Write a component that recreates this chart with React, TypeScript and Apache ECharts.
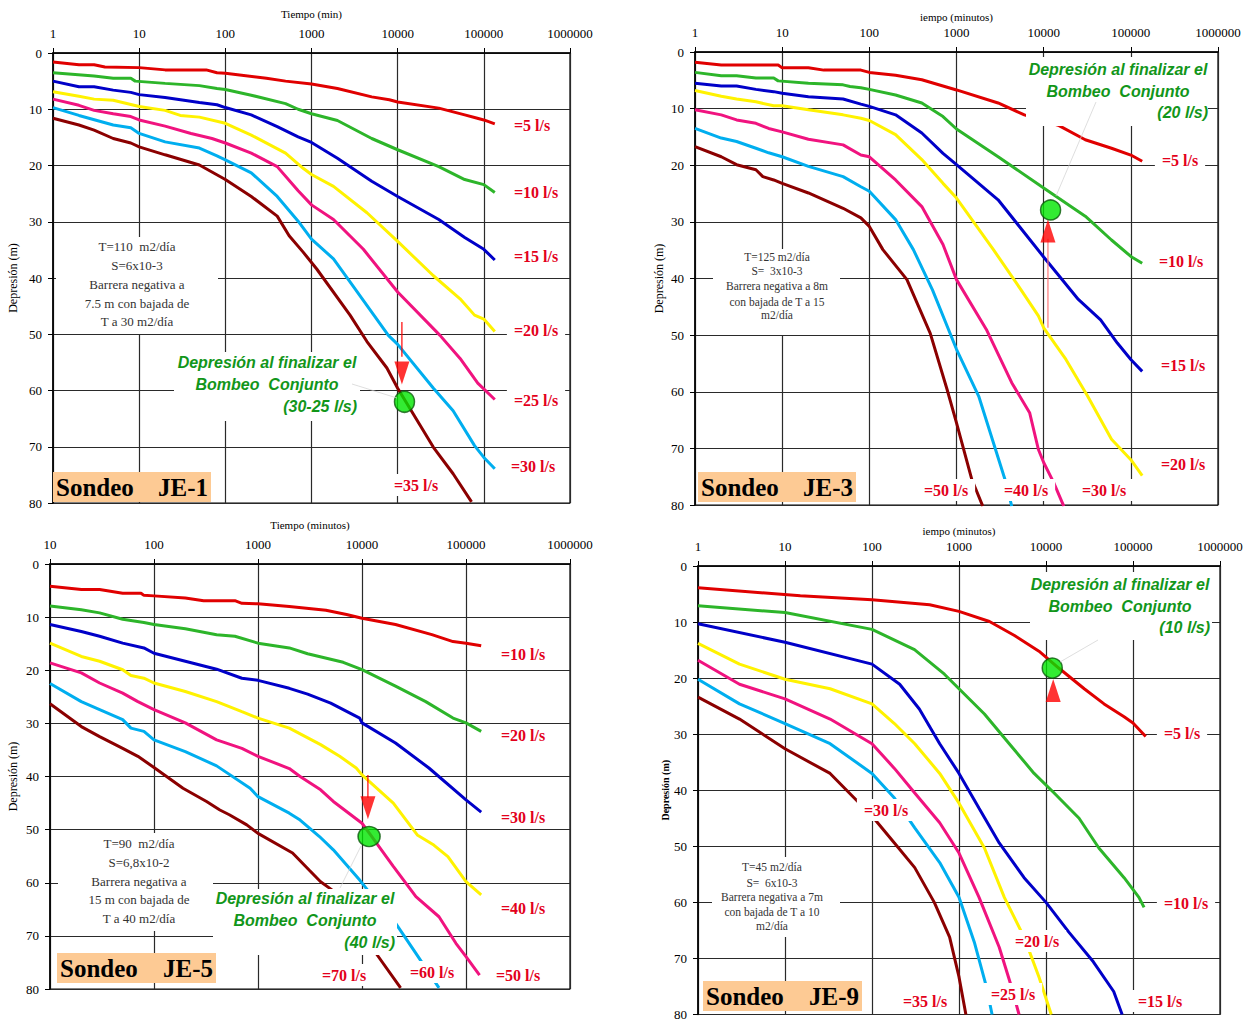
import React, { useEffect, useRef } from "react";
import * as echarts from "echarts";

// Drawdown curves: [time (min), drawdown (m)]
// ---- Sondeo JE-1 ----
const je1Q5 = [[1,1.6],[2,2.1],[3,2.1],[4,2.5],[10,2.6],[20,3.0],[60,3.0],[80,3.5],[100,3.6],[300,4.5],[500,5.0],[1000,5.5],[2000,6.3],[5000,7.8],[8000,8.3],[10000,8.7],[30000,9.8],[60000,11.0],[80000,11.5],[100000,11.9],[134000,12.6]];
const je1Q10 = [[1,3.5],[3,4.1],[5,4.5],[8,4.5],[9,5.0],[20,5.4],[50,5.8],[80,6.3],[100,6.5],[200,7.5],[500,9.0],[700,10.0],[1000,10.8],[2000,12.0],[5000,15.2],[10000,17.2],[30000,20.2],[60000,22.5],[100000,23.4],[134000,24.8]];
const je1Q15 = [[1,5.0],[2,6.0],[3,6.0],[5,6.6],[8,7.0],[10,7.4],[20,7.9],[50,8.8],[80,9.2],[100,9.7],[200,11.0],[400,13.1],[700,14.9],[1000,15.9],[2000,18.7],[5000,22.8],[10000,25.5],[30000,29.6],[60000,32.8],[100000,34.9],[134000,36.8]];
const je1Q20 = [[1,6.9],[2,7.7],[3,8.2],[5,8.4],[10,9.5],[20,10.2],[30,11.1],[50,11.4],[100,12.5],[200,14.6],[500,17.8],[800,20.5],[1000,21.6],[1800,23.7],[4400,28.4],[10000,33.5],[26000,39.6],[53000,43.7],[78000,46.6],[100000,47.3],[134000,49.5]];
const je1Q25 = [[1,8.2],[2,9.3],[3,10.2],[5,10.8],[8,11.3],[10,11.9],[20,13.0],[40,14.3],[70,15.2],[100,16.0],[200,17.8],[400,20.2],[700,24.5],[1000,27.0],[1800,29.6],[4000,34.9],[10000,42.5],[31000,50.2],[53000,54.3],[85000,58.7],[134000,61.6]];
const je1Q30 = [[1,9.7],[2,11.1],[5,12.8],[8,13.3],[10,14.3],[20,15.8],[50,16.9],[80,18.3],[100,19.0],[200,21.3],[400,25.5],[700,29.9],[1000,33.1],[1800,36.6],[2800,40.7],[7800,50.2],[10000,51.8],[26000,59.6],[44000,63.6],[78000,69.8],[100000,71.9],[134000,73.9]];
const je1Q35 = [[1,11.6],[2,12.8],[3,13.7],[5,15.2],[8,16.0],[10,16.7],[20,18.1],[50,19.9],[100,22.5],[200,25.5],[400,29.0],[550,32.5],[800,35.4],[1150,38.4],[2800,46.6],[4400,51.3],[7500,56.0],[10000,59.6],[26000,70.1],[44000,74.8],[72000,79.8]];

// ---- Sondeo JE-3 ----
const je3Q5 = [[1,1.8],[2,2.3],[9,2.3],[10,2.8],[20,2.8],[30,3.2],[80,3.2],[100,3.6],[200,4.1],[400,4.9],[700,6.0],[1000,6.7],[3000,9.0],[6000,11.1],[15000,13.0],[30000,15.5],[60000,17.0],[100000,18.2],[135000,19.3]];
const je3Q10 = [[1,3.6],[2,4.2],[3,4.2],[5,4.6],[8,4.6],[9,5.1],[20,5.5],[50,5.8],[60,6.1],[80,6.3],[100,6.6],[200,7.6],[400,9.0],[700,11.4],[1000,13.6],[3000,18.5],[10000,24.0],[30000,29.0],[60000,33.2],[100000,36.1],[135000,37.3]];
const je3Q15 = [[1,5.5],[2,6.0],[3,6.0],[5,6.6],[8,7.0],[10,7.3],[20,7.9],[50,8.3],[80,9.2],[100,9.6],[200,11.1],[400,14.3],[700,17.9],[1000,19.9],[3000,26.1],[10000,36.2],[25000,43.7],[45000,47.3],[70000,51.4],[100000,54.3],[135000,56.4]];
const je3Q20 = [[1,6.8],[2,7.8],[3,8.3],[5,8.8],[8,9.5],[10,9.5],[20,10.2],[50,11.1],[80,11.7],[100,12.1],[200,14.6],[400,19.0],[700,23.2],[1000,25.8],[2650,34.9],[5500,42.0],[8700,46.6],[10000,48.7],[18000,54.3],[32000,60.8],[60000,68.4],[100000,72.0],[135000,74.8]];
const je3Q30 = [[1,10.2],[2,11.1],[3,12.0],[5,12.6],[7,13.5],[10,14.1],[20,15.4],[50,16.4],[80,18.2],[100,18.5],[200,22.6],[400,27.3],[700,34.0],[1000,40.2],[2200,49.0],[4300,58.4],[6900,63.7],[8700,70.2],[10000,72.5],[13000,76.0],[17000,80.2]];
const je3Q40 = [[1,13.5],[2,15.2],[3,15.8],[5,17.0],[7,17.8],[10,18.5],[20,20.2],[50,22.0],[80,23.8],[100,24.6],[200,29.6],[320,34.9],[530,42.0],[1000,52.5],[1800,60.8],[3600,75.5],[4300,80.2]];
const je3Q50 = [[1,16.7],[2,18.5],[3,19.9],[5,20.8],[6,22.0],[8,22.6],[10,23.2],[20,24.9],[50,27.6],[80,29.3],[100,30.8],[143,34.9],[270,40.2],[500,49.7],[780,59.6],[1000,65.5],[1500,75.5],[2000,80.2]];

// ---- Sondeo JE-5 ----
const je5Q10 = [[10,4.2],[20,4.8],[30,4.8],[50,5.5],[75,5.5],[80,5.9],[100,6.0],[200,6.4],[300,6.9],[600,6.9],[700,7.4],[1000,7.5],[2000,8.0],[4500,8.7],[7100,9.5],[10000,10.2],[21000,11.4],[47000,13.3],[75000,14.6],[100000,14.9],[140000,15.4]];
const je5Q20 = [[10,7.9],[20,8.6],[30,9.2],[50,10.4],[80,11.0],[100,11.4],[200,12.2],[400,13.3],[600,13.6],[1000,14.9],[2000,15.8],[3000,16.9],[6600,18.5],[10000,19.9],[21000,23.0],[41000,25.9],[75000,29.0],[100000,29.9],[140000,31.5]];
const je5Q30 = [[10,11.4],[20,12.7],[30,13.6],[50,14.9],[80,15.8],[100,16.8],[200,18.3],[400,19.8],[700,21.5],[1000,21.9],[2000,23.4],[3000,24.5],[5000,26.2],[9500,29.0],[10000,29.9],[21000,33.7],[44000,38.4],[100000,44.4],[140000,46.7]];
const je5Q40 = [[10,14.9],[20,17.4],[30,18.3],[50,19.9],[60,21.0],[80,21.5],[100,22.4],[200,24.0],[400,25.9],[700,27.8],[1000,29.0],[2000,30.9],[4000,34.0],[6100,36.2],[8800,38.4],[10000,39.7],[20000,45.0],[34000,51.0],[49000,52.9],[67000,55.1],[100000,59.8],[140000,62.3]];
const je5Q50 = [[10,18.6],[20,20.5],[30,22.4],[50,24.3],[70,25.9],[100,27.4],[200,29.9],[400,33.1],[700,34.7],[1000,36.2],[2000,38.5],[2540,40.0],[4000,42.5],[5300,44.7],[10000,48.8],[11700,50.6],[20000,56.9],[33000,62.6],[55000,66.4],[80000,71.4],[100000,73.9],[135000,77.4]];
const je5Q60 = [[10,22.5],[20,25.9],[30,27.4],[50,29.3],[60,30.9],[80,31.5],[100,33.1],[200,35.3],[400,38.0],[840,42.2],[1000,43.8],[2000,46.9],[2540,48.2],[3900,51.3],[5300,53.8],[9500,59.5],[12000,62.0],[21000,67.6],[33000,73.3],[55000,79.8]];
const je5Q70 = [[10,26.3],[20,30.6],[30,32.5],[50,34.7],[70,36.2],[100,38.3],[190,42.2],[320,44.7],[430,46.3],[530,47.2],[780,49.1],[1000,50.7],[2150,54.4],[3100,57.6],[4000,59.8],[5100,61.3],[14000,73.6],[23500,79.8]];

// ---- Sondeo JE-9 ----
const je9Q5 = [[1,3.9],[15,5.3],[100,6.0],[460,6.9],[1000,8.1],[2240,9.9],[4340,12.4],[8300,15.2],[14000,18.2],[27500,21.9],[46500,24.6],[79000,26.9],[100000,28.0],[140000,30.4]];
const je9Q10 = [[1,7.1],[10,8.3],[100,11.3],[308,14.9],[680,19.3],[1000,21.9],[1960,26.4],[3780,31.7],[7300,37.0],[12400,40.5],[24000,45.0],[40500,50.3],[79000,55.6],[117000,59.1],[134000,60.9]];
const je9Q15 = [[1,10.3],[10,13.6],[100,17.5],[208,21.1],[350,25.5],[600,31.7],[1000,37.0],[1700,43.2],[2900,49.4],[5600,55.6],[10000,60.0],[18300,65.3],[35000,70.6],[60000,75.9],[75000,80.0]];
const je9Q20 = [[1,13.8],[3,17.5],[10,20.2],[33,21.9],[100,24.6],[181,28.1],[310,31.7],[600,37.0],[1000,42.3],[1960,50.3],[3320,59.1],[5600,66.2],[8300,73.3],[11500,80.0]];
const je9Q25 = [[1,16.8],[3,21.1],[10,23.7],[33,27.3],[100,31.7],[181,36.1],[310,40.5],[600,45.8],[1000,51.2],[1700,59.1],[2900,68.0],[4000,75.0],[4900,80.0]];
const je9Q30 = [[1,20.2],[3,24.6],[10,28.1],[33,31.7],[100,37.0],[181,41.4],[310,46.7],[600,52.9],[1000,59.1],[1500,67.1],[2060,75.0],[2400,80.0]];
const je9Q35 = [[1,23.4],[3,27.3],[10,32.6],[33,37.0],[100,44.6],[181,49.4],[310,53.8],[520,60.0],[780,66.2],[1000,73.3],[1200,80.0]];

// End-of-joint-pumping points and arrows: [time, drawdown]
const je1Point = [12000, 62.0];
const je1Arrow = [[11200, 47.8], [11200, 54.0]];
const je1Head = [11200, 56.9];
const je3Point = [12000, 27.9];
const je3Arrow = [[11200, 48.7], [11200, 33.0]];
const je3Head = [11200, 31.6];
const je5Point = [11700, 51.3];
const je5Arrow = [[11400, 39.7], [11400, 44.0]];
const je5Head = [11400, 45.9];
const je9Point = [11800, 18.2];
const je9Head = [12100, 22.2];

const CURVE_COLORS = ["#e00000", "#2db52a", "#0000c8", "#fff200", "#f0137f", "#00aeef", "#8b0000"];

const je1Curves = [je1Q5, je1Q10, je1Q15, je1Q20, je1Q25, je1Q30, je1Q35];
const je3Curves = [je3Q5, je3Q10, je3Q15, je3Q20, je3Q30, je3Q40, je3Q50];
const je5Curves = [je5Q10, je5Q20, je5Q30, je5Q40, je5Q50, je5Q60, je5Q70];
const je9Curves = [je9Q5, je9Q10, je9Q15, je9Q20, je9Q25, je9Q30, je9Q35];

const depthTicks = [0, 10, 20, 30, 40, 50, 60, 70, 80];

const SERIF = '"Liberation Serif", "Times New Roman", serif';
const SANS = '"Liberation Sans", Arial, sans-serif';
const LABEL_RED = "#e3001b";
const NOTE_GREEN = "#12961a";

type PanelLayout = {
  left: number; top: number; width: number; height: number;
  xMin: number; xName: string; xNameGap: number; yNameGap: number; yNameBold?: boolean;
};

const panels: PanelLayout[] = [
  { left: 53, top: 53, width: 517, height: 450, xMin: 1, xName: "Tiempo (min)", xNameGap: 34, yNameGap: 34 },
  { left: 695, top: 52, width: 523, height: 453, xMin: 1, xName: "iempo (minutos)", xNameGap: 30, yNameGap: 30 },
  { left: 50, top: 564, width: 520, height: 425, xMin: 10, xName: "Tiempo (minutos)", xNameGap: 34, yNameGap: 31 },
  { left: 698, top: 566, width: 522, height: 452, xMin: 1, xName: "iempo (minutos)", xNameGap: 30, yNameGap: 27, yNameBold: true },
];

const panelCurves = [je1Curves, je3Curves, je5Curves, je9Curves];

function flowLabel(text: string, x: number, y: number) {
  return {
    type: "text", x, y, z: 20,
    style: {
      text, font: `bold 16px ${SERIF}`, fill: LABEL_RED, align: "center", verticalAlign: "middle",
      backgroundColor: "#ffffff", padding: [3, 7],
    },
  };
}

function whiteRect(x: number, y: number, w: number, h: number) {
  return { type: "rect", z: 15, shape: { x, y, width: w, height: h }, style: { fill: "#ffffff" } };
}

function infoBox(lines: string[], cx: number, ys: number[], size: number) {
  return lines.map((t, i) => ({
    type: "text", x: cx, y: ys[i], z: 20,
    style: { text: t, font: `${size}px ${SERIF}`, fill: "#333333", align: "center", verticalAlign: "middle" },
  }));
}

function note(cx: number, y1: number, rightX: number, y3: number, last: string) {
  const font = `italic bold 16px ${SANS}`;
  return [
    { type: "text", x: cx, y: y1, z: 20, style: { text: "Depresión al finalizar el", font, fill: NOTE_GREEN, align: "center", verticalAlign: "middle" } },
    { type: "text", x: cx, y: y1 + 22, z: 20, style: { text: "Bombeo  Conjunto", font, fill: NOTE_GREEN, align: "center", verticalAlign: "middle" } },
    { type: "text", x: rightX, y: y3, z: 20, style: { text: last, font, fill: NOTE_GREEN, align: "right", verticalAlign: "middle" } },
  ];
}

function leader(x1: number, y1: number, x2: number, y2: number) {
  return { type: "line", z: 21, shape: { x1, y1, x2, y2 }, style: { stroke: "#d0d0d0", lineWidth: 0.7 } };
}

function wellTag(name: string, x: number, y: number, w: number) {
  return [
    { type: "rect", z: 18, shape: { x, y, width: w, height: 30 }, style: { fill: "#fdca94" } },
    { type: "text", x: x + 3, y: y + 15, z: 20, style: { text: "Sondeo", font: `bold 25px ${SERIF}`, fill: "#000", align: "left", verticalAlign: "middle" } },
    { type: "text", x: x + w - 3, y: y + 15, z: 20, style: { text: name, font: `bold 25px ${SERIF}`, fill: "#000", align: "right", verticalAlign: "middle" } },
  ];
}

function buildOption() {
  const grid = panels.map((p) => ({
    left: p.left, top: p.top, width: p.width, height: p.height,
    show: true, borderColor: "#000", borderWidth: 1.2, backgroundColor: "transparent",
  }));

  const xAxis = panels.map((p, i) => ({
    type: "log", logBase: 10, gridIndex: i, position: "top", min: p.xMin, max: 1000000,
    name: p.xName, nameLocation: "middle", nameGap: p.xNameGap,
    nameTextStyle: { fontFamily: SERIF, fontSize: 11, color: "#000" },
    axisLine: { show: true, lineStyle: { color: "#000", width: 1.5 } },
    axisTick: { show: true, length: 5, lineStyle: { color: "#000" } },
    minorTick: { show: false },
    axisLabel: { fontFamily: SERIF, fontSize: 13, color: "#000", margin: 13, formatter: (v: number) => String(Math.round(v)) },
    splitLine: { show: true, lineStyle: { color: "#2a2a2a", width: 1.2 } },
  }));

  const yAxis = panels.map((p, i) => ({
    type: "value", gridIndex: i, inverse: true, min: depthTicks[0], max: depthTicks[depthTicks.length - 1], interval: 10,
    name: "Depresión (m)", nameLocation: "middle", nameGap: p.yNameGap,
    nameTextStyle: { fontFamily: SERIF, fontSize: p.yNameBold ? 10 : 12, fontWeight: p.yNameBold ? "bold" : "normal", color: "#000" },
    axisLine: { show: true, lineStyle: { color: "#000", width: 1.5 } },
    axisTick: { show: true, length: 5, lineStyle: { color: "#000" } },
    axisLabel: { fontFamily: SERIF, fontSize: 13, color: "#000", margin: 11 },
    splitLine: { show: true, lineStyle: { color: "#2a2a2a", width: 1.2 } },
  }));

  const series: any[] = [];
  panelCurves.forEach((curves, pi) => {
    curves.forEach((data, ci) => {
      series.push({
        type: "line", xAxisIndex: pi, yAxisIndex: pi, data, symbol: "none", z: 3,
        lineStyle: { color: CURVE_COLORS[ci], width: 3 }, itemStyle: { color: CURVE_COLORS[ci] },
      });
    });
  });

  const point = (pi: number, p: number[], size: number[]) => ({
    type: "scatter", xAxisIndex: pi, yAxisIndex: pi, data: [p], z: 6,
    symbol: "circle", symbolSize: size,
    itemStyle: { color: "#00e600", borderColor: "#0a5a0a", borderWidth: 1.5 },
  });
  const shaft = (pi: number, d: number[][], color: string) => ({
    type: "line", xAxisIndex: pi, yAxisIndex: pi, data: d, symbol: "none", z: 5,
    lineStyle: { color, width: 1.2 },
  });
  const head = (pi: number, p: number[], down: boolean) => ({
    type: "scatter", xAxisIndex: pi, yAxisIndex: pi, data: [p], z: 5,
    symbol: "triangle", symbolSize: [15, 23], symbolRotate: down ? 180 : 0,
    itemStyle: { color: "#ff0000" },
  });

  series.push(shaft(0, je1Arrow, "#ff0000"), head(0, je1Head, true), point(0, je1Point, [20, 21]));
  series.push(shaft(1, je3Arrow, "#ff7777"), head(1, je3Head, false), point(1, je3Point, [20, 20]));
  series.push(shaft(2, je5Arrow, "#ff0000"), head(2, je5Head, true), point(2, je5Point, [22, 20]));
  series.push(head(3, je9Head, false), point(3, je9Point, [20, 20]));

  const graphic: any[] = [
    // JE-1
    whiteRect(56, 237, 162, 97),
    ...infoBox(["T=110  m2/día", "S=6x10-3", "Barrera negativa a", "7.5 m con bajada de", "T a 30 m2/día"], 137, [246, 265, 284, 303, 321], 13),
    whiteRect(174, 352, 186, 69),
    ...note(267, 362, 357, 406, "(30-25 l/s)"),
    leader(352, 384, 397, 398),
    flowLabel("=5 l/s", 532, 125), flowLabel("=10 l/s", 536, 192), flowLabel("=15 l/s", 536, 256),
    flowLabel("=20 l/s", 536, 330), flowLabel("=25 l/s", 536, 400), flowLabel("=30 l/s", 533, 466),
    flowLabel("=35 l/s", 416, 485),
    ...wellTag("JE-1", 53, 472, 158),

    // JE-3
    whiteRect(713, 249, 127, 86),
    ...infoBox(["T=125 m2/día", "S=  3x10-3", "Barrera negativa a 8m", "con bajada de T a 15", "m2/día"], 777, [257, 271, 286, 302, 315], 11.5),
    whiteRect(1026, 57, 182, 69),
    ...note(1118, 69, 1208, 112, "(20 l/s)"),
    leader(1096, 102, 1056, 196),
    flowLabel("=5 l/s", 1180, 160), flowLabel("=10 l/s", 1181, 261), flowLabel("=15 l/s", 1183, 365),
    flowLabel("=20 l/s", 1183, 464), flowLabel("=30 l/s", 1104, 490), flowLabel("=40 l/s", 1026, 490),
    flowLabel("=50 l/s", 946, 490),
    ...wellTag("JE-3", 698, 472, 158),

    // JE-5
    whiteRect(58, 833, 155, 98),
    ...infoBox(["T=90  m2/día", "S=6,8x10-2", "Barrera negativa a", "15 m con bajada de", "T a 40 m2/día"], 139, [843, 862, 881, 899, 918], 13),
    whiteRect(213, 889, 184, 66),
    ...note(305, 898, 395, 942, "(40 l/s)"),
    leader(340, 888, 361, 846),
    flowLabel("=10 l/s", 523, 654), flowLabel("=20 l/s", 523, 735), flowLabel("=30 l/s", 523, 817),
    flowLabel("=40 l/s", 523, 908), flowLabel("=50 l/s", 518, 975), flowLabel("=60 l/s", 432, 972),
    flowLabel("=70 l/s", 344, 975),
    ...wellTag("JE-5", 57, 953, 159),

    // JE-9
    whiteRect(712, 857, 128, 80),
    ...infoBox(["T=45 m2/día", "S=  6x10-3", "Barrera negativa a 7m", "con bajada de T a 10", "m2/día"], 772, [867, 883, 897, 912, 926], 11.5),
    whiteRect(1030, 572, 182, 68),
    ...note(1120, 584, 1210, 627, "(10 l/s)"),
    leader(1098, 640, 1060, 662),
    flowLabel("=5 l/s", 1182, 733), flowLabel("=10 l/s", 1186, 903), flowLabel("=15 l/s", 1160, 1001),
    flowLabel("=20 l/s", 1037, 941), flowLabel("=25 l/s", 1013, 994), flowLabel("=30 l/s", 886, 810),
    flowLabel("=35 l/s", 925, 1001),
    ...wellTag("JE-9", 703, 981, 159),
  ];

  return { animation: false, backgroundColor: "#ffffff", grid, xAxis, yAxis, series, graphic };
}

export default function App() {
  const ref = useRef<HTMLDivElement>(null);
  useEffect(() => {
    if (!ref.current) return;
    const chart = echarts.init(ref.current, undefined, { renderer: "svg" });
    chart.setOption(buildOption() as any);
    return () => chart.dispose();
  }, []);
  return <div ref={ref} style={{ position: "absolute", left: 0, top: 0, width: 1250, height: 1021 }} />;
}
